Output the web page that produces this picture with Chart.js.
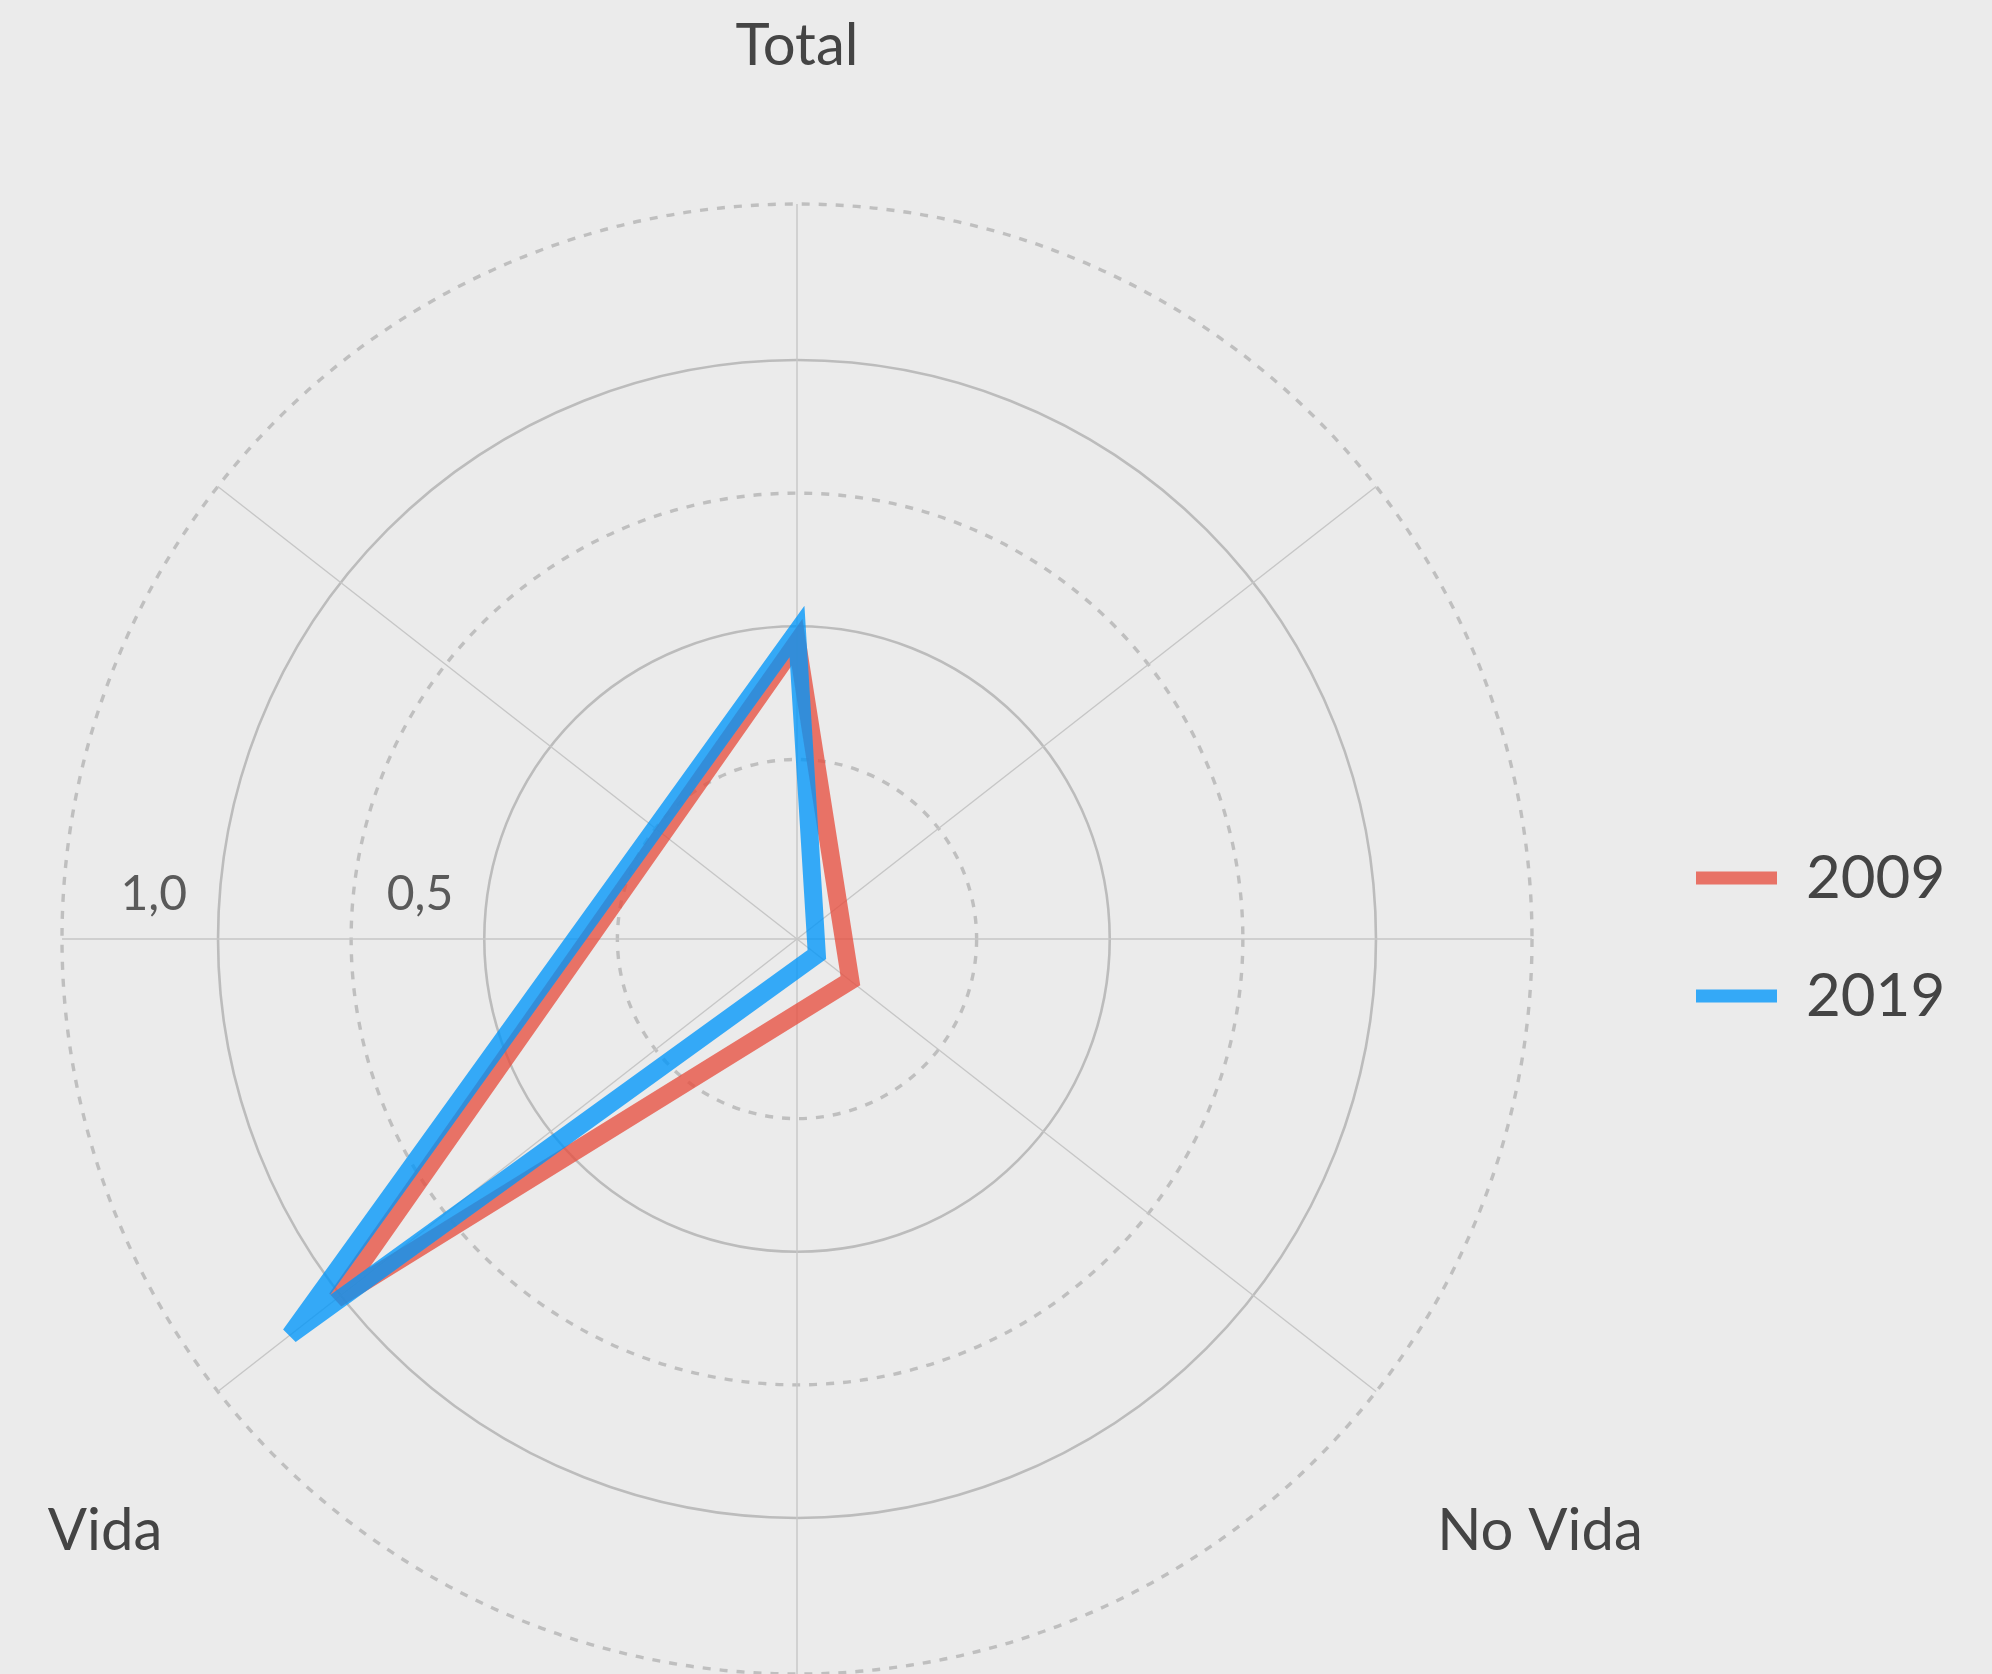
<!DOCTYPE html>
<html>
<head>
<meta charset="utf-8">
<script src="https://cdn.jsdelivr.net/npm/chart.js"></script>
<style>
    * { margin: 0; padding: 0; box-sizing: border-box; }
    html, body { width: 1992px; height: 1674px; background: #ebebeb; overflow: hidden; }
    .chart-wrap { position: relative; width: 1992px; height: 1674px; }
</style>
</head>
<body>
<div class="chart-wrap"><canvas id="radar"></canvas></div>
<script>
// Series values per category (Total, No Vida, Vida)
const categories = ['Total', 'No Vida', 'Vida'];
const years = ['2009', '2019'];
const values2009 = [0.47, 0.04, 1.01];
const values2019 = [0.49, -0.04, 1.12];

// Rings and their labels
const ringValues = [0.25, 0.5, 0.75, 1.0];
const solidRings = [0.5, 1.0];
const tickValues = [0.5, 1.0];
const tickLabels = ['0,5', '1,0'];

// radial range: centre sits a little below zero, outer dashed ring at max
const SCALE_MIN = -0.0873;
const SCALE_MAX = 1.293;

// the radar is built on 180 slots (2 degrees each) so the spokes can sit at any even angle
const SLOTS = 180;
const axisAngle = { 'Total': 0, 'No Vida': 128, 'Vida': 232 };
const spokeAngles = [0, 52, 90, 128, 180, 232, 270, 308];
const spokeSlots = spokeAngles.map(a => a / 2);

const labelOffset = { 'Total': [0, -874], 'No Vida': [743, 611], 'Vida': [-692, 611] };

const colors = ['rgba(231, 76, 60, 0.76)', 'rgba(0, 150, 250, 0.78)'];
const FONT = 'Lato, "Noto Sans", sans-serif';

const slotLabels = Array.from({ length: SLOTS }, () => '');
categories.forEach(c => { slotLabels[axisAngle[c] / 2] = c; });

function toSlots(values) {
    const out = Array(SLOTS).fill(null);
    categories.forEach((c, i) => { out[axisAngle[c] / 2] = values[i]; });
    return out;
}

// 2019 gets the lower order so it is painted on top of 2009
const datasets = [values2009, values2019].map((vals, i) => ({
    label: years[i],
    data: toSlots(vals),
    order: 1 - i,
    borderColor: colors[i],
    backgroundColor: colors[i],
    borderWidth: 18,
    borderJoinStyle: 'miter',
    pointRadius: 0,
    pointHoverRadius: 0,
    fill: false,
    spanGaps: true,
    tension: 0
}));

// tighter miter limit: blunt tip at the sharp Vida corner, pointed at Total
const miterPlugin = {
    id: 'miter',
    beforeDatasetsDraw(chart) { chart.ctx.save(); chart.ctx.miterLimit = 4; },
    afterDatasetsDraw(chart) { chart.ctx.restore(); }
};

const textPlugin = {
    id: 'texts',
    afterDraw(chart) {
        const ctx = chart.ctx;
        const r = chart.scales.r;
        ctx.save();

        // category names
        ctx.font = '58px ' + FONT;
        ctx.fillStyle = '#444444';
        ctx.textAlign = 'center';
        ctx.textBaseline = 'alphabetic';
        categories.forEach(c => {
            const [dx, dy] = labelOffset[c];
            ctx.fillText(c, r.xCenter + dx, r.yCenter + dy);
        });

        // ring values along the left horizontal spoke
        ctx.font = '48px ' + FONT;
        ctx.fillStyle = '#5a5a5a';
        ctx.textAlign = 'right';
        tickValues.forEach((v, i) => {
            const p = r.getPointPosition(270 / 2, r.getDistanceFromCenterForValue(v) + 31);
            ctx.fillText(tickLabels[i], p.x, p.y - 29);
        });

        // legend
        ctx.font = '60px ' + FONT;
        ctx.textAlign = 'left';
        chart.data.datasets.forEach((ds, i) => {
            const y = 878 + i * 118;
            ctx.fillStyle = ds.borderColor;
            ctx.fillRect(1696, y - 6.5, 81, 13);
            ctx.fillStyle = '#444444';
            ctx.fillText(ds.label, 1806, y + 20);
        });
        ctx.restore();
    }
};

const isSolid = v => solidRings.some(s => Math.abs(s - v) < 1e-6);
const isRing = v => ringValues.some(s => Math.abs(s - v) < 1e-6) || Math.abs(v - SCALE_MAX) < 1e-6;

new Chart(document.getElementById('radar'), {
    type: 'radar',
    data: { labels: slotLabels, datasets: datasets },
    options: {
        responsive: true,
        maintainAspectRatio: false,
        animation: false,
        devicePixelRatio: 1,
        layout: { padding: { left: 62, right: 460, top: 204, bottom: 0 } },
        plugins: { legend: { display: false }, tooltip: { enabled: false } },
        scales: {
            r: {
                min: SCALE_MIN,
                max: SCALE_MAX,
                afterBuildTicks: scale => {
                    scale.ticks = [SCALE_MIN, ...ringValues, SCALE_MAX].map(v => ({ value: v }));
                },
                ticks: { display: false },
                pointLabels: { display: false },
                angleLines: {
                    color: '#c6c6c6',
                    lineWidth: ctx => spokeSlots.includes(ctx.index) ? 1.4 : 0
                },
                grid: {
                    circular: true,
                    color: ctx => isRing(ctx.tick.value) ? (isSolid(ctx.tick.value) ? '#bcbcbc' : '#bfbfbf') : 'rgba(0,0,0,0)',
                    lineWidth: ctx => isSolid(ctx.tick.value) ? 2.6 : 3.4
                },
                border: {
                    dash: ctx => (ctx.tick && isSolid(ctx.tick.value)) ? [] : [8, 9]
                }
            }
        }
    },
    plugins: [miterPlugin, textPlugin]
});
</script>
</body>
</html>
